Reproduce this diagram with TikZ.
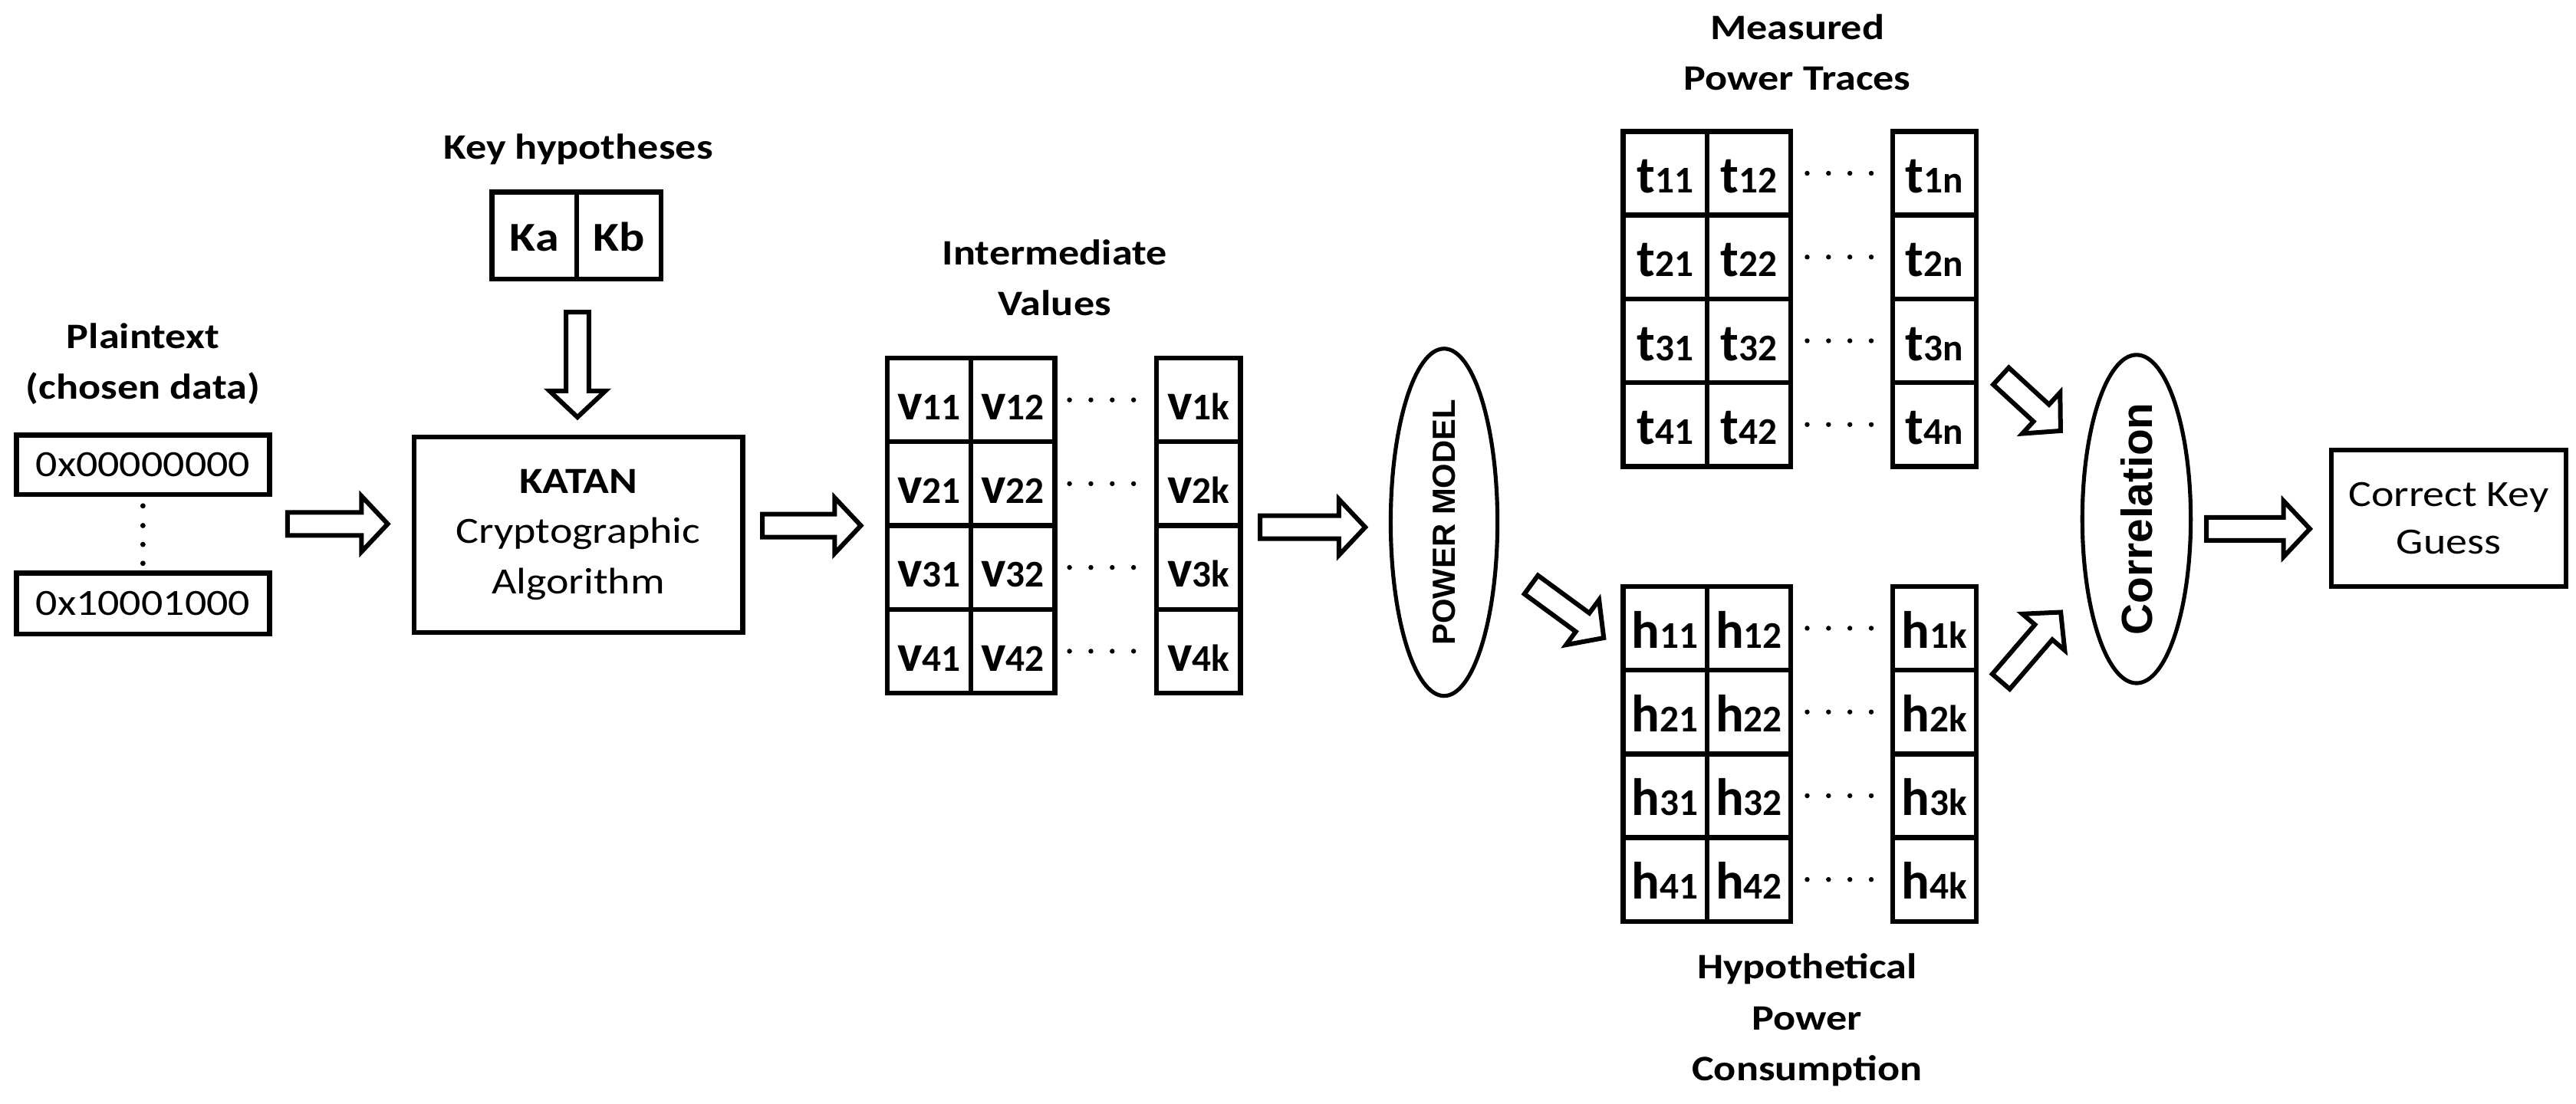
\documentclass[tikz,border=0pt]{standalone}
\usepackage{fontspec}
\setmainfont{Carlito}
\newfontfamily\labf{Carlito}[FakeStretch=1.16]
\newfontfamily\arialf{Liberation Sans}
\usetikzlibrary{calc,shapes.geometric}

\tikzset{
  box/.style={draw, line width=3pt, inner sep=0pt, align=center},
  cell/.style={draw, line width=3pt, minimum width=51pt, minimum height=51pt,
               inner sep=0pt, text height=24pt, text depth=0pt},
  kcell/.style={draw, line width=3pt, minimum width=51.5pt, minimum height=53pt,
               inner sep=0pt, text height=19pt, text depth=0pt,
               font=\labf\fontsize{25}{30}\selectfont\bfseries},
  lab/.style={align=center, inner sep=0pt, font=\labf\fontsize{21.8}{31}\selectfont\bfseries},
  btxt/.style={font=\labf\fontsize{22.5}{30.5}\selectfont},
  barrowstyle/.style={draw, line width=2.8pt, fill=white, line join=miter},
  oval/.style={draw, ellipse, line width=2.4pt, inner sep=0pt},
}
\newcommand\ct[2]{{\fontsize{32}{32}\selectfont\bfseries #1}{\fontsize{23}{23}\selectfont\bfseries #2}}
\newcommand\barrow[2]{%
  \path let \p1=($(#2)-(#1)$) in \pgfextra{%
    \pgfmathsetmacro\baang{atan2(\y1,\x1)}%
    \pgfmathsetmacro\balen{veclen(\x1,\y1)}%
    \xdef\baang{\baang}\xdef\balen{\balen}};
  \draw[barrowstyle, shift={(#1)}, rotate=\baang]
    (0pt,-7pt) -- ({\balen pt-17pt},-7pt) -- ({\balen pt-17pt},-17pt) -- ({\balen pt-1pt},0pt)
    -- ({\balen pt-17pt},17pt) -- ({\balen pt-17pt},7pt) -- (0pt,7pt) -- cycle;}

\begin{document}
\begin{tikzpicture}[x=1pt,y=-1pt]
\useasboundingbox (0,0) rectangle (1568,672);

% ---- labels
\node[lab] (kh) at (352,91) {Key hypotheses};
\node[lab] (ptl) at (87,221.5) {Plaintext\\(chosen data)};
\node[lab] (ivl) at (642,169) {Intermediate\\Values};
\node[lab] (mpl) at (1094,32) {Measured\\Power Traces};
\node[lab] (hpl) at (1100,621) {Hypothetical\\Power\\Consumption};

% ---- key hypotheses
\node[kcell] (ka) at (325.25,143.5) {Ka};
\node[kcell] (kb) at (376.75,143.5) {Kb};

% ---- plaintext
\node[box, btxt, minimum width=154pt, minimum height=36pt] (p1) at (87,283) {0x00000000};
\node[box, btxt, minimum width=154pt, minimum height=37pt] (p2) at (87,367.5) {0x10001000};
\foreach \yy in {308,320,331.5,343} \fill (87,\yy) circle (1.6pt);

% ---- KATAN
\node[box, btxt, minimum width=200pt, minimum height=119pt] (katan) at (352,325.5)
  {\textbf{KATAN}\\Cryptographic\\Algorithm};

% ---- V grid
\foreach \r in {1,2,3,4} {
  \pgfmathsetmacro\vy{218+51*(\r-1)+25.5}
  \node[cell] (v\r1) at (565.5,\vy) {\ct{v}{\r1}};
  \node[cell] (v\r2) at (616.5,\vy) {\ct{v}{\r2}};
  \node[cell] (v\r k) at (729.5,\vy) {\ct{v}{\r k}};
  \foreach \d in {0,1,2,3} \fill ({651+13*\d},\vy) circle (1.5pt);
}

% ---- t grid
\foreach \r in {1,2,3,4} {
  \pgfmathsetmacro\ty{80+51*(\r-1)+25.5}
  \node[cell] (t\r1) at (1013.5,\ty) {\ct{t}{\r1}};
  \node[cell] (t\r2) at (1064.5,\ty) {\ct{t}{\r2}};
  \node[cell] (t\r n) at (1177.5,\ty) {\ct{t}{\r n}};
  \foreach \d in {0,1,2,3} \fill ({1100+13*\d},\ty) circle (1.5pt);
}

% ---- h grid
\foreach \r in {1,2,3,4} {
  \pgfmathsetmacro\hy{357+51*(\r-1)+25.5}
  \node[cell] (h\r1) at (1013.5,\hy) {\ct{h}{\r1}};
  \node[cell] (h\r2) at (1064.5,\hy) {\ct{h}{\r2}};
  \node[cell] (h\r k) at (1177.5,\hy) {\ct{h}{\r k}};
  \foreach \d in {0,1,2,3} \fill ({1100+13*\d},\hy) circle (1.5pt);
}

% ---- ellipses
\node[oval, rotate=90, minimum width=186pt, minimum height=65pt,
      font={\arialf\bfseries\fontsize{19.5}{20}\selectfont}] (pm) at (879,318) {POWER MODEL};
\node[oval, rotate=90, minimum width=186pt, minimum height=66pt,
      font={\arialf\bfseries\fontsize{26.5}{27}\selectfont}] (corr) at (1300.5,316) {Correlation};

% ---- result
\node[box, btxt, minimum width=143pt, minimum height=83pt, font=\labf\fontsize{22.5}{29}\selectfont] (ckg) at (1490.5,315.5)
  {Correct Key\\Guess};

% ---- block arrows
\coordinate (a1s) at (175,319);   \coordinate (a1e) at (237,319);
\coordinate (a2s) at (464,320);   \coordinate (a2e) at (525,320);
\coordinate (a3s) at (767,321);   \coordinate (a3e) at (832,321);
\coordinate (a4s) at (1343,322);  \coordinate (a4e) at (1407,322);
\coordinate (dks) at (351.5,190); \coordinate (dke) at (351.5,255);
\coordinate (d1s) at (932,356);   \coordinate (d1e) at (977,389);
\coordinate (d2s) at (1218,229);  \coordinate (d2e) at (1255,263);
\coordinate (d3s) at (1218,415);  \coordinate (d3e) at (1255,372);
\barrow{a1s}{a1e}
\barrow{a2s}{a2e}
\barrow{a3s}{a3e}
\barrow{a4s}{a4e}
\barrow{dks}{dke}
\barrow{d1s}{d1e}
\barrow{d2s}{d2e}
\barrow{d3s}{d3e}
\end{tikzpicture}
\end{document}
